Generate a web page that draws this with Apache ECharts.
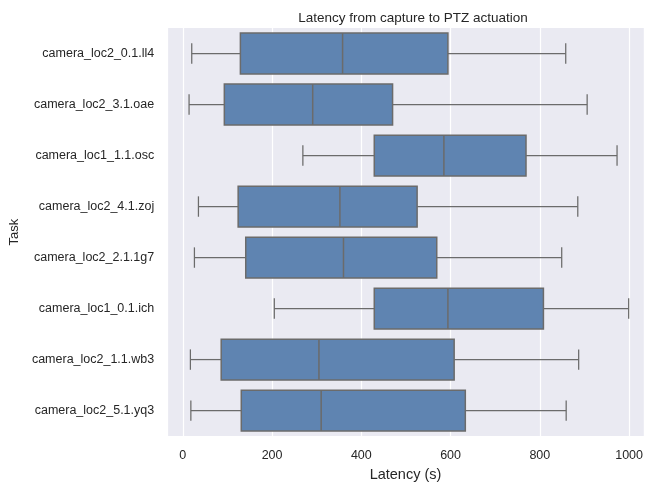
<!DOCTYPE html>
<html>
<head>
<meta charset="utf-8">
<script src="https://cdn.jsdelivr.net/npm/echarts@6/dist/echarts.min.js"></script>
<style>
  html, body { margin: 0; padding: 0; background: #ffffff; }
  #chart { width: 646px; height: 487px; }
</style>
</head>
<body>
<div id="chart"></div>
<script>
// Task names, top to bottom
const tasks = [
  'camera_loc2_0.1.ll4',
  'camera_loc2_3.1.oae',
  'camera_loc1_1.1.osc',
  'camera_loc2_4.1.zoj',
  'camera_loc2_2.1.1g7',
  'camera_loc1_0.1.ich',
  'camera_loc2_1.1.wb3',
  'camera_loc2_5.1.yq3'
];

// Five-number summaries per task (seconds)
const whiskerLow  = [20, 14, 269, 35, 26, 205, 17, 18];
const q1          = [129, 93, 429, 124, 141, 429, 86, 131];
const median      = [358, 291, 585, 352, 360, 594, 305, 310];
const q3          = [594, 470, 769, 525, 569, 808, 608, 633];
const whiskerHigh = [858, 906, 973, 885, 849, 999, 887, 859];

// Value-axis labels
const tickValues = [0, 200, 400, 600, 800, 1000];

const boxData = tasks.map((t, i) => [i, whiskerLow[i], q1[i], median[i], q3[i], whiskerHigh[i]]);

const fill = '#5f84b1';
const edge = '#6b6b6b';
const font = 'Liberation Sans, Arial, sans-serif';
const textColor = '#262626';

function renderBox(params, api) {
  const idx = api.value(0);
  const band = api.size([0, 1])[1];
  const half = band * 0.8 / 2;
  const cap = half / 2;
  const pLo = api.coord([api.value(1), idx]);
  const pQ1 = api.coord([api.value(2), idx]);
  const pMed = api.coord([api.value(3), idx]);
  const pQ3 = api.coord([api.value(4), idx]);
  const pHi = api.coord([api.value(5), idx]);
  const y = pQ1[1];
  const lineStyle = { stroke: edge, lineWidth: 1.25, fill: null };
  return {
    type: 'group',
    children: [
      { type: 'line', shape: { x1: pLo[0], y1: y, x2: pQ1[0], y2: y }, style: lineStyle },
      { type: 'line', shape: { x1: pQ3[0], y1: y, x2: pHi[0], y2: y }, style: lineStyle },
      { type: 'line', shape: { x1: pLo[0], y1: y - cap, x2: pLo[0], y2: y + cap }, style: lineStyle },
      { type: 'line', shape: { x1: pHi[0], y1: y - cap, x2: pHi[0], y2: y + cap }, style: lineStyle },
      { type: 'rect', shape: { x: pQ1[0], y: y - half, width: pQ3[0] - pQ1[0], height: half * 2 },
        style: { fill: fill, stroke: edge, lineWidth: 1.5 } },
      { type: 'line', shape: { x1: pMed[0], y1: y - half, x2: pMed[0], y2: y + half },
        style: { stroke: edge, lineWidth: 1.5 } }
    ]
  };
}

const chart = echarts.init(document.getElementById('chart'), null, { renderer: 'canvas' });
chart.setOption({
  backgroundColor: '#ffffff',
  animation: false,
  title: {
    text: 'Latency from capture to PTZ actuation',
    left: 408, top: 6, textAlign: 'center',
    textStyle: { fontFamily: font, fontSize: 13.5, fontWeight: 'normal', color: textColor }
  },
  grid: {
    left: 167, right: 2, top: 28, bottom: 46,
    show: true, backgroundColor: '#eaeaf2', borderWidth: 0
  },
  xAxis: {
    type: 'value',
    min: -35, max: 1033,
    splitNumber: 5,
    name: 'Latency (s)',
    nameLocation: 'middle',
    nameGap: 29,
    nameTextStyle: { fontFamily: font, fontSize: 14.5, color: textColor },
    axisLine: { show: false },
    axisTick: { show: false },
    axisLabel: {
      margin: 13,
      fontFamily: font, fontSize: 12.5, color: textColor,
      showMinLabel: false, showMaxLabel: false,
      formatter: v => tickValues.indexOf(v) >= 0 ? String(v) : ''
    },
    splitLine: { show: true, lineStyle: { color: '#ffffff', width: 1.2 } }
  },
  yAxis: {
    type: 'category',
    data: tasks,
    inverse: true,
    name: 'Task',
    nameLocation: 'middle',
    nameGap: 138,
    nameRotate: 90,
    nameTextStyle: { fontFamily: font, fontSize: 13, color: textColor },
    axisLine: { show: false },
    axisTick: { show: false },
    axisLabel: { margin: 13, fontFamily: font, fontSize: 12.5, color: textColor },
    splitLine: { show: false }
  },
  series: [{
    type: 'custom',
    renderItem: renderBox,
    encode: { x: [1, 2, 3, 4, 5], y: 0 },
    data: boxData,
    silent: true
  }]
});
</script>
</body>
</html>
